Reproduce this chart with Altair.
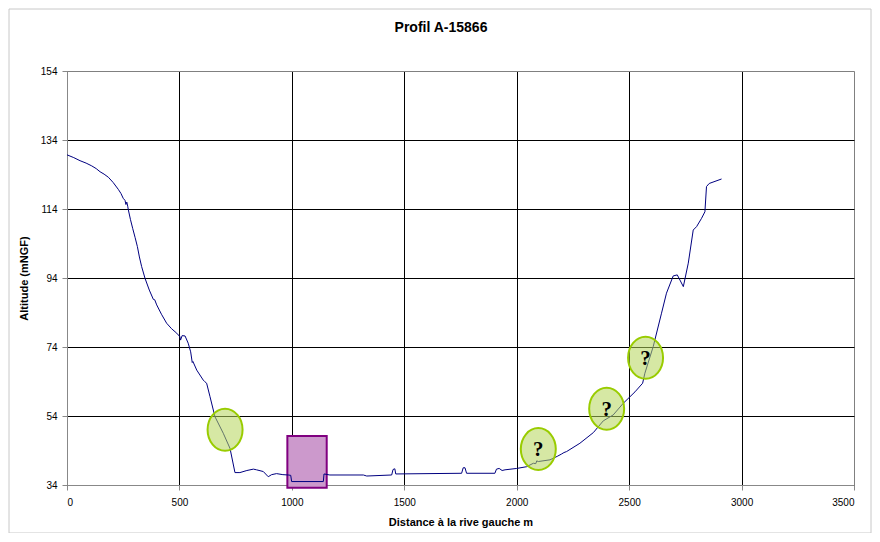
import altair as alt
import pandas as pd

# Profile values
dist = [0, 30, 58, 85, 110, 130, 147, 165, 184, 205, 228, 240, 250, 258, 262, 266, 270, 273, 282, 292,
        303, 313, 322, 332, 347, 366, 384, 390, 399, 420, 443, 465, 488, 502, 505, 512, 525, 539, 550,
        557, 560, 577, 606, 612, 621, 636, 658, 695, 725, 747, 769, 800, 829, 843, 873, 895, 910, 932,
        960, 984, 995, 999, 1140, 1143, 1169, 1318, 1333, 1444, 1450, 1458, 1462, 1755, 1762, 1770,
        1777, 1903, 1910, 1922, 1935, 1948, 2000, 2044, 2074, 2085, 2089, 2096, 2148, 2180, 2200, 2210,
        2222, 2281, 2341, 2385, 2429, 2474, 2526, 2560, 2570, 2607, 2644, 2666, 2696, 2714, 2726, 2741,
        2763, 2785, 2800, 2822, 2837, 2844, 2856, 2911]
altitude = [129.7, 128.9, 128.0, 127.3, 126.5, 125.7, 124.8, 124.1, 123.2, 121.7, 119.7, 118.5, 117.1,
            116.5, 115.3, 116.0, 114.8, 113.7, 111.0, 108.4, 105.7, 103.1, 100.1, 97.3, 93.9, 90.5,
            87.8, 87.7, 86.2, 83.5, 80.9, 79.3, 78.0, 77.0, 76.0, 77.3, 77.2, 75.1, 72.6, 69.5, 69.8,
            67.3, 64.4, 64.0, 63.5, 59.6, 53.8, 49.0, 44.6, 37.6, 37.6, 38.2, 38.6, 38.4, 37.9, 36.4,
            37.0, 37.3, 37.0, 36.9, 36.8, 35.0, 35.0, 37.2, 36.9, 36.9, 36.6, 36.9, 38.5, 38.7, 37.2,
            37.4, 39.0, 39.0, 37.4, 37.4, 38.6, 38.8, 38.2, 38.4, 38.8, 39.3, 40.3, 40.2, 41.0, 40.8,
            41.3, 42.3, 43.0, 43.4, 43.7, 46.1, 49.2, 52.6, 54.3, 57.7, 61.0, 63.5, 66.4, 74.1, 83.8,
            89.6, 94.6, 94.9, 93.4, 91.5, 98.3, 107.9, 108.9, 111.3, 113.2, 120.5, 121.4, 122.7]

# Annotation ellipses (centres in data units) and their labels
ell_x = [703, 2096, 2400, 2573]
ell_y = [50.0, 44.4, 56.1, 70.9]
ell_label = ["", "?", "?", "?"]

# Purple box
box_x = [980]
box_x2 = [1155]
box_y = [33.2]
box_y2 = [48.2]

x_ticks = [0, 500, 1000, 1500, 2000, 2500, 3000, 3500]
y_ticks = [34, 54, 74, 94, 114, 134, 154]
chart_title = ["Profil A-15866"]

profile = pd.DataFrame({"dist": dist, "alt": altitude})
ells = pd.DataFrame({"x": ell_x, "y": ell_y, "label": ell_label})
box = pd.DataFrame({"x": box_x, "x2": box_x2, "y": box_y, "y2": box_y2})

xscale = alt.Scale(domain=[0, 3500], nice=False)
yscale = alt.Scale(domain=[34, 154], nice=False, zero=False)

xaxis = alt.Axis(values=x_ticks, format="d", title="Distance à la rive gauche m",
                 gridColor=alt.condition("datum.value == 3500", alt.value("#808080"), alt.value("#000000")),
                 labelPadding=7, titlePadding=9)
yaxis = alt.Axis(values=y_ticks, format="d", title="Altitude (mNGF)",
                 gridColor=alt.condition("datum.value == 154", alt.value("#808080"), alt.value("#000000")),
                 labelPadding=5, titlePadding=11)

frame = alt.Chart(pd.DataFrame({"a": [0]})).mark_rect(
    fill="transparent", stroke="#c8c8c8", strokeWidth=1
).encode(x=alt.value(-58), x2=alt.value(804), y=alt.value(-62), y2=alt.value(462))

title_mark = alt.Chart(pd.DataFrame({"t": chart_title})).mark_text(
    font="Liberation Sans", fontSize=14, fontWeight="bold", color="black", baseline="middle", align="center"
).encode(x=alt.value(374), y=alt.value(-43), text="t:N")

rect = alt.Chart(box).mark_rect(fill="#cc99cc", stroke="#800080", strokeWidth=2).encode(
    x=alt.X("x:Q", scale=xscale, axis=xaxis),
    x2="x2:Q",
    y=alt.Y("y:Q", scale=yscale, axis=yaxis),
    y2="y2:Q",
)

line = alt.Chart(profile).mark_line(color="#000080", strokeWidth=1).encode(
    x=alt.X("dist:Q", scale=xscale, axis=xaxis),
    y=alt.Y("alt:Q", scale=yscale, axis=yaxis),
)

ellipse_path = "M -0.833 0 A 0.833 1 0 1 0 0.833 0 A 0.833 1 0 1 0 -0.833 0 Z"
ellipses = alt.Chart(ells).mark_point(
    shape=ellipse_path, size=1764, filled=True, fill="#b5d65a", fillOpacity=0.55,
    stroke="#99cc00", strokeWidth=2, strokeOpacity=1, opacity=1
).encode(
    x=alt.X("x:Q", scale=xscale, axis=xaxis),
    y=alt.Y("y:Q", scale=yscale, axis=yaxis),
)

qmarks = alt.Chart(ells).mark_text(
    font="Liberation Serif", fontWeight="bold", fontSize=21, color="black", baseline="middle", dy=1
).encode(
    x=alt.X("x:Q", scale=xscale, axis=xaxis),
    y=alt.Y("y:Q", scale=yscale, axis=yaxis),
    text="label:N",
)

chart = alt.layer(frame, title_mark, rect, line, ellipses, qmarks).properties(
    width=787, height=414,
    padding={"left": 59, "top": 63, "right": 18, "bottom": 48},
    autosize=alt.AutoSizeParams(type="none"),
).configure_view(stroke="#808080", strokeWidth=1).configure_axis(
    labelFont="Liberation Sans", labelFontSize=11.5, labelColor="black",
    titleFont="Liberation Sans", titleFontSize=12, titleFontWeight="bold", titleColor="black",
    tickColor="black", tickSize=4, domainColor="black", gridOpacity=1, gridWidth=1,
).configure(background="white")

chart.save("out.html", embed_options={"renderer": "svg", "actions": False})
